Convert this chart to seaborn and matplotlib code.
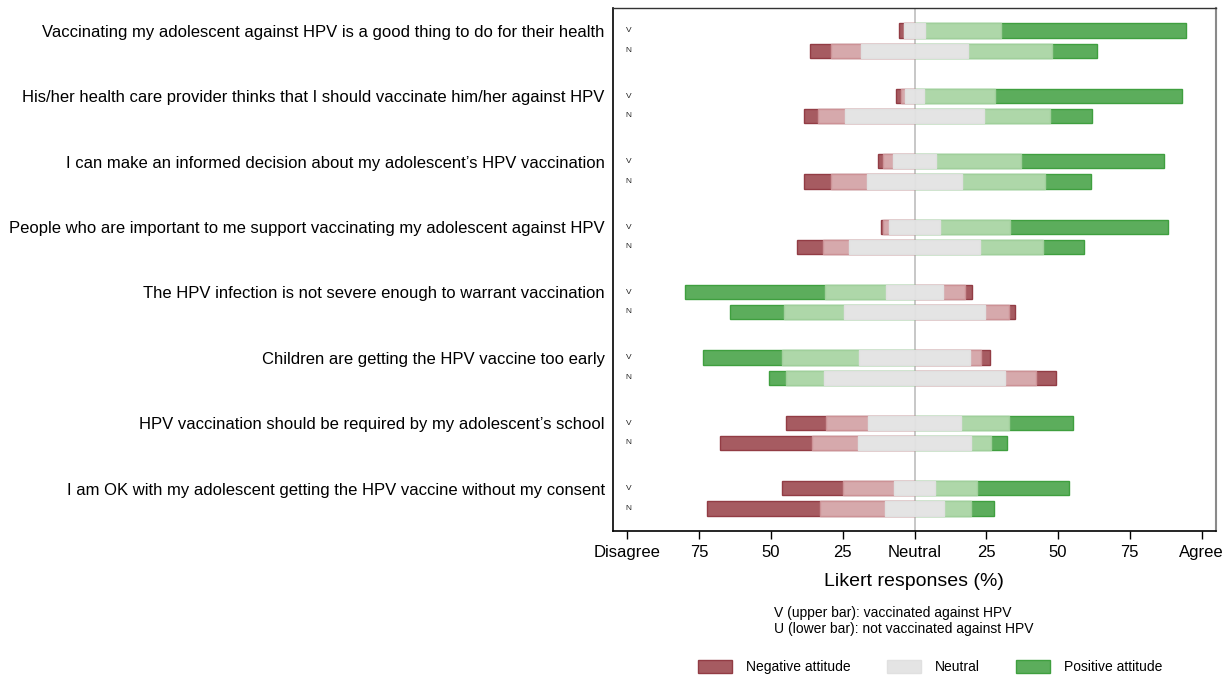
import numpy as np
import pandas as pd
import matplotlib.pyplot as plt
from matplotlib.patches import Patch
import seaborn as sns

# -------------------------------------------------
# Data (percent of responses)
# -------------------------------------------------
items = [
    "Vaccinating my adolescent against HPV is a good thing to do for their health",
    "His/her health care provider thinks that I should vaccinate him/her against HPV",
    "I can make an informed decision about my adolescent\u2019s HPV vaccination",
    "People who are important to me support vaccinating my adolescent against HPV",
    "The HPV infection is not severe enough to warrant vaccination",
    "Children are getting the HPV vaccine too early",
    "HPV vaccination should be required by my adolescent\u2019s school",
    "I am OK with my adolescent getting the HPV vaccine without my consent",
]
# negatively worded items: disagreeing = positive attitude
reversed_items = [False, False, False, False, True, True, False, False]

# V = vaccinated (upper bar)
v_sd = [1.5, 2.0, 1.8, 0.7, 48.7, 27.7, 14.1, 21.0]
v_d = [0.3, 1.3, 3.6, 1.9, 21.4, 26.8, 14.6, 17.8]
v_n = [7.0, 6.6, 14.9, 18.0, 19.6, 38.5, 32.1, 14.5]
v_a = [26.7, 24.6, 29.5, 24.4, 7.7, 4.0, 17.0, 14.6]
v_sa = [64.5, 65.4, 50.0, 54.9, 2.5, 2.9, 22.1, 31.9]

# N = not vaccinated (lower bar)
n_sd = [7.2, 4.9, 9.3, 9.0, 18.8, 5.8, 32.1, 39.4]
n_d = [10.5, 9.3, 12.5, 9.1, 21.1, 13.4, 16.0, 22.6]
n_n = [37.3, 48.3, 33.4, 45.4, 49.0, 62.7, 39.1, 20.7]
n_a = [29.4, 23.2, 28.7, 22.1, 8.5, 10.9, 7.0, 9.2]
n_sa = [15.6, 14.3, 16.2, 14.3, 2.1, 7.1, 5.7, 8.0]

tick_vals = [-100, -75, -50, -25, 0, 25, 50, 75, 100]
tick_labels = ["Disagree", "75", "50", "25", "Neutral", "25", "50", "75", "Agree"]

# -------------------------------------------------
# Build cumulative bar ends (diverging around neutral midpoint)
# -------------------------------------------------
rows = []
for grp, sd, d, n, a, sa in [("V", v_sd, v_d, v_n, v_a, v_sa),
                             ("N", n_sd, n_d, n_n, n_a, n_sa)]:
    for i, item in enumerate(items):
        half = n[i] / 2
        rows.append({
            "item": item,
            "group": grp,
            "rev": reversed_items[i],
            "left_outer": -(half + d[i] + sd[i]),
            "left_inner": -(half + d[i]),
            "neutral_l": -half,
            "neutral_r": half,
            "right_inner": half + a[i],
            "right_outer": half + a[i] + sa[i],
        })
df = pd.DataFrame(rows)

# -------------------------------------------------
# Colours
# -------------------------------------------------
dark_red = "#a65b61"
light_red = "#d6a9ac"
grey = "#e4e4e4"
light_green = "#aed7a9"
dark_green = "#5cad5c"
edges = {
    dark_red: "#923c44",
    light_red: "#cc9296",
    grey: "#e0e0e0",
    light_green: "#a0cf9b",
    dark_green: "#3f9f3f",
}

# (column, colour for normal item, colour for reversed item)
layers = [
    ("left_outer", dark_red, dark_green),
    ("right_outer", dark_green, dark_red),
    ("left_inner", light_red, light_green),
    ("right_inner", light_green, light_red),
    ("neutral_l", grey, grey),
    ("neutral_r", grey, grey),
]

# -------------------------------------------------
# Plot
# -------------------------------------------------
sns.set_style("ticks")
plt.rcParams["font.family"] = ["Liberation Sans", "DejaVu Sans"]
plt.rcParams["text.color"] = "black"
plt.rcParams["xtick.color"] = "black"
plt.rcParams["ytick.color"] = "black"
plt.rcParams["axes.labelcolor"] = "black"

fig = plt.figure(figsize=(12.26, 6.78), dpi=100)
ax = fig.add_axes([613 / 1226, 1 - 531 / 678, (1216 - 613) / 1226, (531 - 8) / 678])

ax.axvline(0, color="#bdbdbd", lw=1.2, zorder=0)

for col, c_norm, c_rev in layers:
    for rev, c in [(False, c_norm), (True, c_rev)]:
        sub = df[df["rev"] == rev]
        sns.barplot(
            data=sub, x=col, y="item", hue="group",
            order=items, hue_order=["V", "N"],
            palette=[c, c], saturation=1, orient="h",
            dodge=True, width=0.62, gap=0.3,
            edgecolor=edges[c], linewidth=1.0,
            errorbar=None, legend=False, ax=ax, zorder=2,
        )

ax.set_xlim(-105, 105)
ax.set_ylim(7.5, -0.5)

ax.set_xticks(tick_vals, tick_labels, fontsize=12)
ax.tick_params(axis="x", length=6, width=1, color="black", labelcolor="black", pad=4)
ax.set_yticks(np.arange(len(items)) - 0.15, items, fontsize=12)
ax.tick_params(axis="y", length=0, pad=6, labelcolor="black")
ax.set_xlabel("")
ax.set_ylabel("")

for i in range(len(items)):
    ax.text(-99.6, i - 0.15, "V", fontsize=6, ha="center", va="center", color="#222222")
    ax.text(-99.6, i + 0.15, "N", fontsize=6, ha="center", va="center", color="#222222")

for side in ["left", "bottom"]:
    ax.spines[side].set_color("black")
    ax.spines[side].set_linewidth(1.2)
ax.spines["top"].set_color("#333333")
ax.spines["top"].set_linewidth(1.0)
ax.spines["right"].set_color("#8a8a8a")
ax.spines["right"].set_linewidth(1.5)

fig.text(914 / 1226, 1 - 582 / 678, "Likert responses (%)", fontsize=14,
         ha="center", va="center", color="black")
fig.text(774 / 1226, 1 - 621 / 678,
         "V (upper bar): vaccinated against HPV\nU (lower bar): not vaccinated against HPV",
         fontsize=10, ha="left", va="center", linespacing=1.1, color="black")

handles = [
    Patch(facecolor=dark_red, edgecolor=edges[dark_red]),
    Patch(facecolor=grey, edgecolor=edges[grey]),
    Patch(facecolor=dark_green, edgecolor=edges[dark_green]),
]
fig.legend(handles, ["Negative attitude", "Neutral", "Positive attitude"],
           loc="center", bbox_to_anchor=(930 / 1226, 1 - 667 / 678), ncol=3,
           frameon=False, fontsize=10, handlelength=2.45, handleheight=1.08,
           handletextpad=1.0, columnspacing=2.6, labelcolor="black")

fig.savefig("out.png", dpi=100)
